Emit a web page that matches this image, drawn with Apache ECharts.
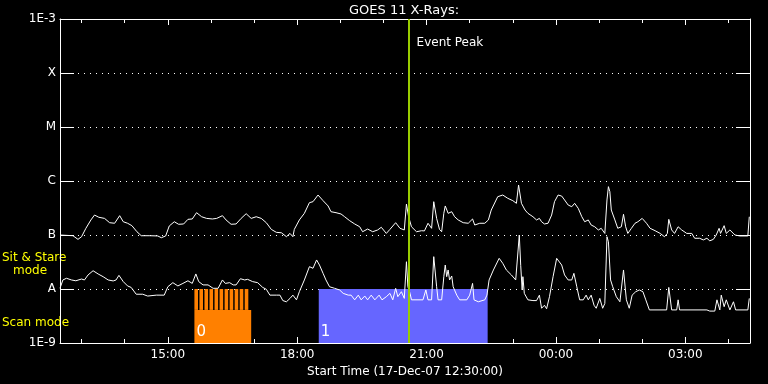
<!DOCTYPE html>
<html>
<head>
<meta charset="utf-8">
<script src="https://cdn.jsdelivr.net/npm/echarts@6/dist/echarts.min.js"></script>
<style>
html,body{margin:0;padding:0;background:#000;}
#chart{width:768px;height:384px;}
</style>
</head>
<body>
<div id="chart"></div>
<script>
// ---------- DATA ----------
const chartTitle = 'GOES 11 X-Rays:';
const xAxisTitle = 'Start Time (17-Dec-07 12:30:00)';
const timeStart = '12:30';
const timeEnd = '04:30';
const xTickLabels = ['15:00', '18:00', '21:00', '00:00', '03:00'];
const yTickLabels = ['1E-9', 'A', 'B', 'C', 'M', 'X', '1E-3'];
const yTickValues = [1e-9, 1e-8, 1e-7, 1e-6, 1e-5, 1e-4, 1e-3];
const eventPeak = '20:35';
const eventLabel = 'Event Peak';

// 1-8 Angstrom (upper curve)
const longChannel = [
['12:30',1.00e-7],['12:48',0.97e-7],['12:55',0.83e-7],['13:00',0.93e-7],['13:06',1.33e-7],['13:13',1.90e-7],
['13:18',2.34e-7],['13:24',2.13e-7],['13:32',2.03e-7],['13:39',1.69e-7],['13:46',1.65e-7],['13:53',2.28e-7],
['13:58',1.76e-7],['14:04',1.65e-7],['14:10',1.49e-7],['14:17',1.15e-7],['14:23',0.97e-7],['14:35',0.97e-7],
['14:46',0.96e-7],['14:51',0.89e-7],['14:57',0.96e-7],['15:02',1.47e-7],['15:09',1.76e-7],['15:15',1.58e-7],
['15:22',1.60e-7],['15:28',1.95e-7],['15:34',1.98e-7],['15:40',2.59e-7],['15:47',2.18e-7],['15:54',2.03e-7],
['16:02',1.98e-7],['16:08',2.03e-7],['16:16',2.28e-7],['16:21',1.90e-7],['16:28',1.58e-7],['16:35',1.60e-7],
['16:42',2.03e-7],['16:49',2.48e-7],['16:56',2.03e-7],['17:03',2.18e-7],['17:10',2.03e-7],['17:17',1.69e-7],
['17:24',1.27e-7],['17:31',1.12e-7],['17:38',1.10e-7],['17:45',0.93e-7],['17:50',1.07e-7],['17:54',0.93e-7],
['17:56',1.27e-7],['18:03',1.90e-7],['18:10',2.52e-7],['18:17',3.97e-7],['18:22',4.14e-7],['18:29',5.50e-7],
['18:36',4.32e-7],['18:43',3.45e-7],['18:47',2.70e-7],['18:54',2.59e-7],['19:01',2.45e-7],['19:06',2.18e-7],
['19:13',1.84e-7],['19:20',1.60e-7],['19:27',1.42e-7],['19:31',1.15e-7],['19:38',1.29e-7],['19:45',1.15e-7],
['19:52',1.24e-7],['19:57',1.39e-7],['20:04',1.07e-7],['20:09',1.27e-7],['20:17',1.69e-7],['20:23',1.33e-7],
['20:29',1.24e-7],['20:32',3.75e-7],['20:35',2.18e-7],['20:39',1.42e-7],['20:46',1.15e-7],['20:53',1.20e-7],
['20:57',1.19e-7],['21:02',1.65e-7],['21:07',1.33e-7],['21:10',4.14e-7],['21:14',2.03e-7],['21:18',1.27e-7],
['21:21',1.15e-7],['21:24',2.52e-7],['21:26',3.45e-7],['21:30',2.52e-7],['21:35',2.70e-7],['21:39',2.18e-7],
['21:44',1.90e-7],['21:51',1.69e-7],['21:58',1.65e-7],['22:04',1.98e-7],['22:07',1.53e-7],['22:14',1.65e-7],
['22:21',1.65e-7],['22:26',1.90e-7],['22:30',2.90e-7],['22:39',5.12e-7],['22:46',5.50e-7],['22:53',4.78e-7],
['23:00',4.32e-7],['23:05',3.86e-7],['23:08',8.43e-7],['23:12',3.86e-7],['23:14',3.59e-7],['23:17',2.90e-7],
['23:21',2.52e-7],['23:28',2.18e-7],['23:33',1.90e-7],['23:37',2.03e-7],['23:40',1.76e-7],['23:44',1.60e-7],
['23:49',1.65e-7],['23:54',2.34e-7],['23:58',4.14e-7],['00:03',5.50e-7],['00:08',5.26e-7],['00:12',4.45e-7],
['00:17',3.59e-7],['00:22',3.34e-7],['00:26',3.86e-7],['00:31',3.12e-7],['00:36',2.18e-7],['00:40',1.76e-7],
['00:45',1.90e-7],['00:49',1.53e-7],['00:54',1.42e-7],['00:59',1.24e-7],['01:03',1.33e-7],['01:08',1.07e-7],
['01:11',4.45e-7],['01:13',7.86e-7],['01:15',6.35e-7],['01:17',2.90e-7],['01:22',1.90e-7],['01:26',1.33e-7],
['01:31',1.42e-7],['01:34',2.42e-7],['01:37',1.42e-7],['01:40',1.07e-7],['01:45',1.33e-7],['01:50',1.65e-7],
['01:54',1.76e-7],['02:00',2.03e-7],['02:06',1.65e-7],['02:11',1.33e-7],['02:18',1.20e-7],['02:25',1.07e-7],
['02:31',0.93e-7],['02:35',1.07e-7],['02:37',1.95e-7],['02:41',1.24e-7],['02:45',1.07e-7],['02:50',1.42e-7],
['02:55',1.24e-7],['03:02',1.07e-7],['03:09',1.07e-7],['03:13',0.87e-7],['03:20',0.87e-7],['03:25',0.81e-7],
['03:30',0.87e-7],['03:34',0.78e-7],['03:39',0.83e-7],['03:43',1.00e-7],['03:47',1.33e-7],['03:49',1.07e-7],
['03:54',1.49e-7],['03:57',1.07e-7],['04:02',1.24e-7],['04:09',1.00e-7],['04:16',0.96e-7],['04:27',0.96e-7],
['04:29',2.18e-7]
];

// 0.5-4 Angstrom (lower curve)
const shortChannel = [
['12:30',1.03e-8],['12:34',1.47e-8],['12:39',1.58e-8],['12:46',1.47e-8],['12:52',1.42e-8],['13:00',1.53e-8],
['13:04',1.47e-8],['13:09',1.82e-8],['13:16',2.18e-8],['13:23',1.90e-8],['13:30',1.69e-8],['13:37',1.47e-8],
['13:44',1.41e-8],['13:48',1.47e-8],['13:52',1.79e-8],['13:58',1.37e-8],['14:04',1.14e-8],['14:09',1.07e-8],
['14:16',0.80e-8],['14:25',0.80e-8],['14:32',0.74e-8],['14:44',0.77e-8],['14:55',0.77e-8],['15:00',1.10e-8],
['15:07',1.31e-8],['15:14',1.14e-8],['15:21',1.27e-8],['15:28',1.42e-8],['15:34',1.27e-8],['15:39',1.90e-8],
['15:43',1.37e-8],['15:49',1.19e-8],['15:56',1.19e-8],['16:03',1.03e-8],['16:10',1.03e-8],['16:16',1.47e-8],
['16:20',1.27e-8],['16:26',1.31e-8],['16:31',1.19e-8],['16:35',1.19e-8],['16:41',1.55e-8],['16:47',1.47e-8],
['16:51',1.51e-8],['16:58',1.37e-8],['17:05',1.31e-8],['17:12',1.07e-8],['17:17',0.99e-8],['17:22',0.77e-8],
['17:31',0.77e-8],['17:36',0.77e-8],['17:40',0.61e-8],['17:45',0.58e-8],['17:50',0.67e-8],['17:54',0.77e-8],
['17:59',0.63e-8],['18:03',0.89e-8],['18:10',1.47e-8],['18:17',2.59e-8],['18:22',2.42e-8],['18:27',3.45e-8],
['18:31',2.78e-8],['18:36',1.95e-8],['18:40',1.47e-8],['18:45',1.10e-8],['18:52',1.03e-8],['18:59',0.96e-8],
['19:04',0.83e-8],['19:11',0.77e-8],['19:15',0.77e-8],['19:20',0.63e-8],['19:25',0.77e-8],['19:29',0.63e-8],
['19:34',0.74e-8],['19:38',0.63e-8],['19:43',0.77e-8],['19:48',0.63e-8],['19:54',0.77e-8],['19:58',0.63e-8],
['20:04',0.72e-8],['20:09',0.83e-8],['20:13',0.63e-8],['20:17',1.03e-8],['20:20',0.72e-8],['20:25',0.89e-8],
['20:29',0.67e-8],['20:32',3.20e-8],['20:34',1.10e-8],['20:37',0.83e-8],['20:39',0.63e-8],['20:55',0.63e-8],
['20:59',0.96e-8],['21:02',0.63e-8],['21:07',0.63e-8],['21:10',3.97e-8],['21:14',1.10e-8],['21:16',0.63e-8],
['21:21',0.63e-8],['21:24',1.69e-8],['21:26',2.78e-8],['21:28',1.69e-8],['21:30',2.25e-8],['21:32',1.47e-8],
['21:35',1.74e-8],['21:37',1.10e-8],['21:42',0.77e-8],['21:46',0.63e-8],['21:56',0.63e-8],['22:00',0.77e-8],
['22:04',1.27e-8],['22:06',0.63e-8],['22:12',0.58e-8],['22:21',0.63e-8],['22:24',0.77e-8],['22:27',1.47e-8],
['22:33',2.25e-8],['22:41',3.70e-8],['22:46',2.99e-8],['22:51',2.25e-8],['22:58',1.82e-8],['23:04',1.47e-8],
['23:09',1.00e-7],['23:11',2.70e-8],['23:13',0.96e-8],['23:14',1.69e-8],['23:16',0.83e-8],['23:21',0.63e-8],
['23:28',0.61e-8],['23:33',0.61e-8],['23:37',0.77e-8],['23:40',0.44e-8],['23:44',0.50e-8],['23:47',0.43e-8],
['23:51',0.72e-8],['23:56',1.69e-8],['00:01',3.70e-8],['00:08',2.78e-8],['00:12',1.82e-8],['00:17',1.47e-8],
['00:22',1.47e-8],['00:25',1.95e-8],['00:29',1.10e-8],['00:33',0.63e-8],['00:38',0.63e-8],['00:42',0.77e-8],
['00:45',0.63e-8],['00:49',0.77e-8],['00:53',0.50e-8],['00:56',0.44e-8],['01:01',0.67e-8],['01:05',0.44e-8],
['01:08',0.54e-8],['01:11',9.30e-8],['01:13',7.50e-8],['01:16',1.47e-8],['01:19',1.10e-8],['01:24',0.72e-8],
['01:29',0.58e-8],['01:34',2.25e-8],['01:38',0.63e-8],['01:42',0.44e-8],['01:46',0.77e-8],['01:51',0.89e-8],
['01:56',0.96e-8],['02:01',0.89e-8],['02:05',0.63e-8],['02:10',0.41e-8],['02:34',0.41e-8],['02:37',1.07e-8],
['02:41',0.41e-8],['02:48',0.41e-8],['02:50',0.63e-8],['02:52',0.41e-8],['03:30',0.41e-8],['03:34',0.39e-8],
['03:41',0.39e-8],['03:44',0.63e-8],['03:48',0.41e-8],['03:50',0.77e-8],['03:54',0.47e-8],['03:57',0.63e-8],
['04:02',0.41e-8],['04:07',0.58e-8],['04:10',0.41e-8],['04:27',0.41e-8],['04:29',0.67e-8]
];

// Observation mode blocks: [start, end, lower flux level, upper flux level]
const modeBlockStart = ['15:37', '18:30'];
const modeBlockEnd   = ['16:56', '22:25'];
const modeBlockLow   = [1e-9, 1e-9];
const modeBlockHigh  = [4.1e-9, 1e-8];
const modeBlockLabel = ['0', '1'];
// Short sit & stare pointings inside block 0
const stripeStart = ['15:37','15:44','15:51','15:58','16:05','16:12','16:19','16:26','16:33','16:40','16:47'];
const stripeEnd   = ['15:42','15:49','15:56','16:03','16:10','16:17','16:24','16:31','16:38','16:45','16:52'];
const stripeLow = 4.1e-9;
const stripeHigh = 1e-8;

// ---------- HELPERS ----------
function toMin(s) {
  const p = s.split(':');
  const h = +p[0], m = +p[1];
  let v = h * 60 + m;
  if (h < 12) v += 1440;
  return v;
}
const xMin = toMin(timeStart), xMax = toMin(timeEnd);
const majorTicks = xTickLabels.map(toMin);
const minorTicks = [];
for (let v = Math.ceil(xMin / 60) * 60; v <= xMax; v += 60) minorTicks.push(v);
function fmtMin(v) {
  const h = Math.floor(v / 60) % 24, m = v % 60;
  return String(h).padStart(2, '0') + ':' + String(m).padStart(2, '0');
}

const blockColors = ['#ff8000', '#6666ff'];
const FONT = 'DejaVu Sans';

const blockData = modeBlockStart.map((s, i) => [toMin(s), toMin(modeBlockEnd[i]), modeBlockLow[i], modeBlockHigh[i]]);
const stripeData = stripeStart.map((s, i) => [toMin(s), toMin(stripeEnd[i]), stripeLow, stripeHigh]);

function rectItem(api, fill) {
  const p0 = api.coord([api.value(0), api.value(3)]);
  const p1 = api.coord([api.value(1), api.value(2)]);
  return { x: p0[0], y: p0[1], w: p1[0] - p0[0], h: p1[1] - p0[1], fill };
}

const baseX = {
  type: 'value', min: xMin, max: xMax, gridIndex: 0,
  splitLine: { show: false }
};

const option = {
  backgroundColor: '#000',
  animation: false,
  title: {
    text: chartTitle, left: 344, top: -1,
    textStyle: { color: '#fff', fontSize: 13, fontWeight: 'normal', fontFamily: FONT }
  },
  grid: { left: 60, right: 18, top: 19, bottom: 41, show: false },
  xAxis: [
    Object.assign({}, baseX, {
      position: 'bottom',
      axisLine: { show: true, lineStyle: { color: '#fff', width: 1 } },
      axisTick: { show: true, inside: true, length: 4, customValues: minorTicks, lineStyle: { color: '#fff' } },
      axisLabel: { show: true, customValues: majorTicks, formatter: v => fmtMin(v), color: '#fff', fontSize: 12, fontFamily: FONT, margin: 6 },
      name: xAxisTitle, nameLocation: 'middle', nameGap: 19,
      nameTextStyle: { color: '#fff', fontSize: 12, fontFamily: FONT }
    }),
    Object.assign({}, baseX, {
      position: 'bottom',
      axisLine: { show: false },
      axisTick: { show: true, inside: true, length: 6, customValues: majorTicks, lineStyle: { color: '#fff' } },
      axisLabel: { show: false }
    }),
    Object.assign({}, baseX, {
      position: 'top',
      axisLine: { show: true, lineStyle: { color: '#fff', width: 1 } },
      axisTick: { show: true, inside: true, length: 4, customValues: minorTicks, lineStyle: { color: '#fff' } },
      axisLabel: { show: false }
    }),
    Object.assign({}, baseX, {
      position: 'top',
      axisLine: { show: false },
      axisTick: { show: true, inside: true, length: 6, customValues: majorTicks, lineStyle: { color: '#fff' } },
      axisLabel: { show: false }
    })
  ],
  yAxis: [
    {
      type: 'log', logBase: 10, min: 1e-9, max: 1e-3, interval: 1, position: 'left',
      axisLine: { show: true, lineStyle: { color: '#fff', width: 1 } },
      axisTick: { show: true, inside: true, length: 14, lineStyle: { color: '#fff' } },
      axisLabel: {
        color: '#fff', fontSize: 12, fontFamily: FONT, margin: 4,
        formatter: v => {
          const i = yTickValues.findIndex(t => Math.abs(Math.log10(t) - Math.log10(v)) < 0.01);
          return i >= 0 ? yTickLabels[i] : '';
        }
      },
      splitLine: { show: true, lineStyle: { color: '#fff', width: 1, type: [1, 5] } }
    },
    {
      type: 'log', logBase: 10, min: 1e-9, max: 1e-3, interval: 1, position: 'right',
      axisLine: { show: true, lineStyle: { color: '#fff', width: 1 } },
      axisTick: { show: true, inside: true, length: 14, lineStyle: { color: '#fff' } },
      axisLabel: { show: false },
      splitLine: { show: false }
    }
  ],
  graphic: [
    { type: 'text', left: 2, top: 252, style: { text: 'Sit & Stare', fill: '#ffff00', font: '12px "DejaVu Sans"' } },
    { type: 'text', left: 13, top: 265, style: { text: 'mode', fill: '#ffff00', font: '12px "DejaVu Sans"' } },
    { type: 'text', left: 2, top: 317, style: { text: 'Scan mode', fill: '#ffff00', font: '12px "DejaVu Sans"' } }
  ],
  series: [
    {
      type: 'custom', name: 'blocks', xAxisIndex: 0, yAxisIndex: 0, z: 1,
      data: blockData,
      renderItem: (params, api) => {
        const r = rectItem(api, blockColors[params.dataIndex]);
        return {
          type: 'group',
          children: [
            { type: 'rect', shape: { x: r.x, y: r.y, width: r.w, height: r.h }, style: { fill: r.fill } },
            { type: 'text', x: r.x + 2, y: api.coord([api.value(0), 1e-9])[1] - 3,
              style: { text: modeBlockLabel[params.dataIndex], fill: '#ffffff', font: '15px "DejaVu Sans"', verticalAlign: 'bottom', align: 'left' } }
          ]
        };
      }
    },
    {
      type: 'custom', name: 'stripes', xAxisIndex: 0, yAxisIndex: 0, z: 1,
      data: stripeData,
      renderItem: (params, api) => {
        const r = rectItem(api, blockColors[0]);
        return { type: 'rect', shape: { x: r.x, y: r.y, width: r.w, height: r.h }, style: { fill: r.fill } };
      }
    },
    {
      type: 'line', name: '1-8 A', xAxisIndex: 0, yAxisIndex: 0, z: 3,
      data: longChannel.map(d => [toMin(d[0]), d[1]]),
      showSymbol: false, symbol: 'none',
      lineStyle: { color: '#fff', width: 1 }
    },
    {
      type: 'line', name: '0.5-4 A', xAxisIndex: 0, yAxisIndex: 0, z: 3,
      data: shortChannel.map(d => [toMin(d[0]), d[1]]),
      showSymbol: false, symbol: 'none',
      lineStyle: { color: '#fff', width: 1 }
    },
    {
      type: 'line', name: 'event', xAxisIndex: 0, yAxisIndex: 0, z: 5,
      data: [], symbol: 'none',
      markLine: {
        silent: true, symbol: ['none', 'none'],
        lineStyle: { color: '#99cc00', width: 2, type: 'solid' },
        label: { show: false },
        data: [{ xAxis: toMin(eventPeak) }]
      },
      markPoint: {
        silent: true, symbol: 'circle', symbolSize: 0,
        label: { show: true, position: 'right', distance: 8, formatter: eventLabel, color: '#fff', fontSize: 12, fontFamily: FONT },
        data: [{ coord: [toMin(eventPeak), 3.6e-4] }]
      }
    }
  ]
};

const chart = echarts.init(document.getElementById('chart'), null, { renderer: 'canvas' });
chart.setOption(option);
</script>
</body>
</html>
